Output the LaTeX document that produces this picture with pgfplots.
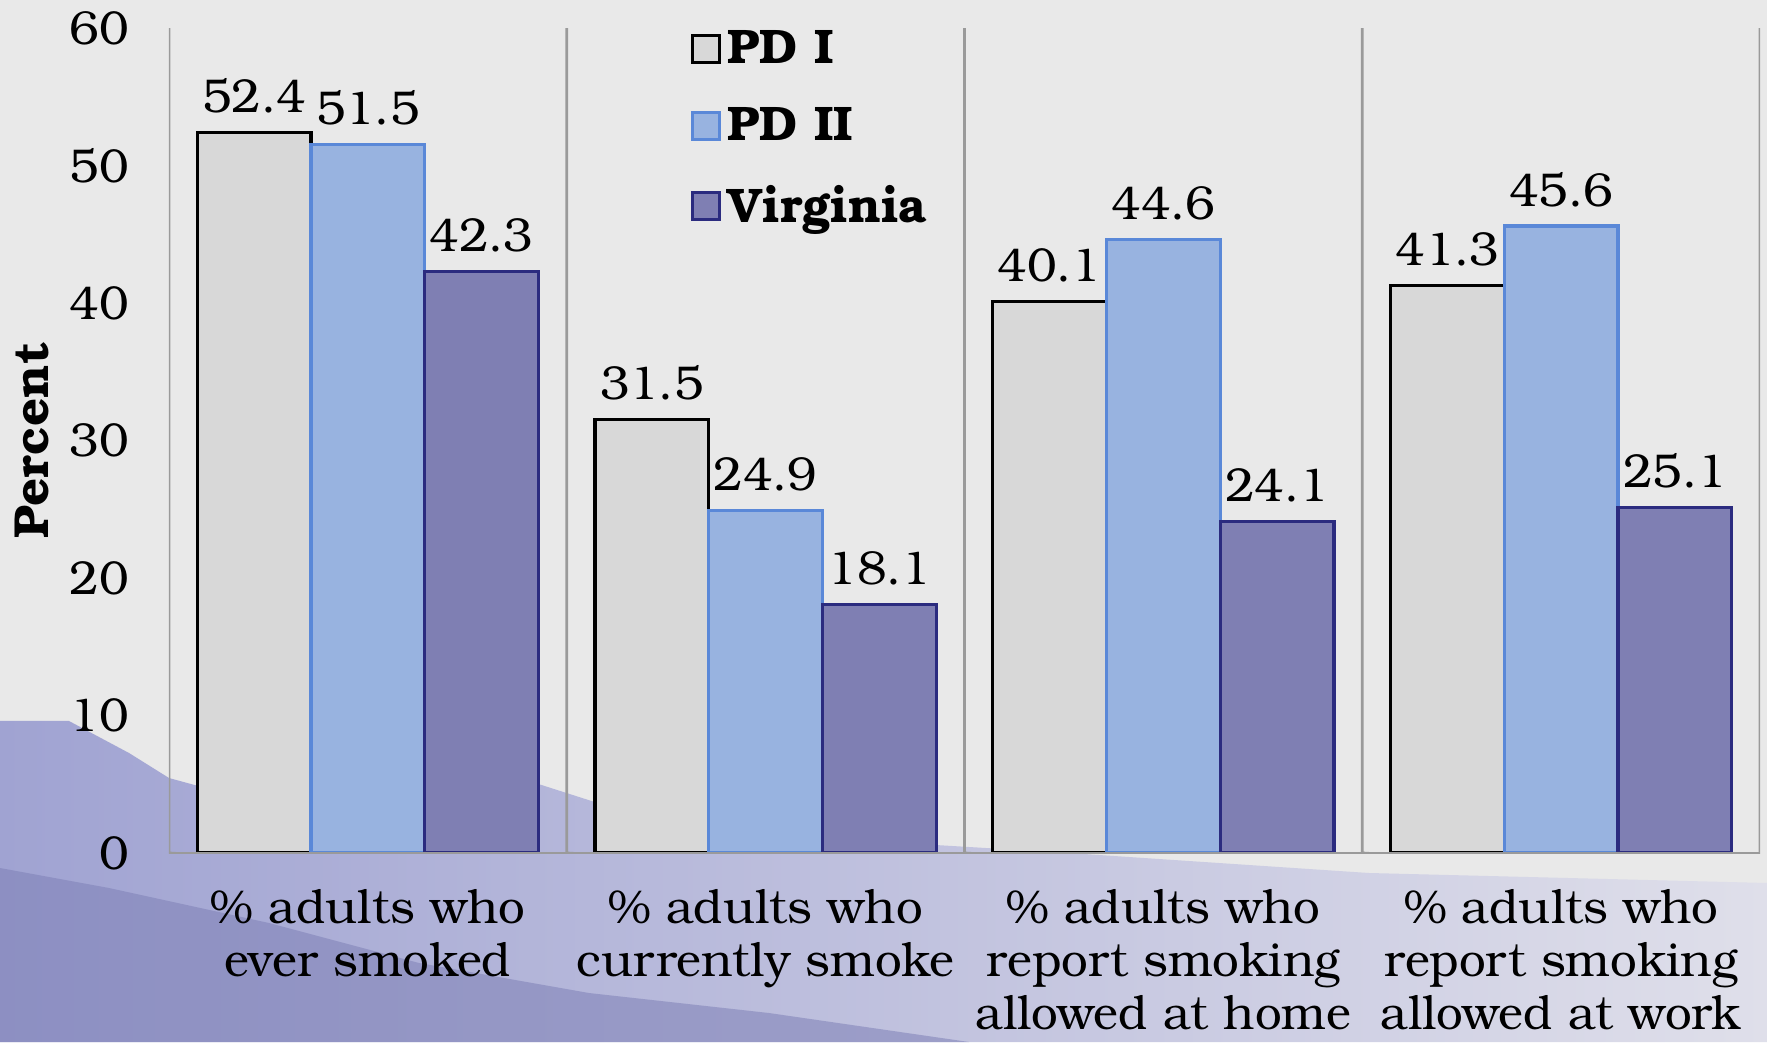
\documentclass[border=0pt]{standalone}
\usepackage{fontspec}
\setmainfont{TeX Gyre Bonum}
\usepackage{pgfplots}
\pgfplotsset{compat=1.18}
\usetikzlibrary{backgrounds}

\definecolor{bgc}{HTML}{E9E9E9}
\definecolor{sepc}{HTML}{9A9A9A}
\definecolor{pdone}{HTML}{D8D8D8}
\definecolor{pdtwo}{HTML}{98B3E0}
\definecolor{pdtwoedge}{HTML}{5A88D8}
\definecolor{vafill}{HTML}{7F7FB3}
\definecolor{vaedge}{HTML}{2B2B7F}
\definecolor{hillA}{HTML}{A0A3D2}
\definecolor{hillB}{HTML}{DFDFEA}
\definecolor{hillC}{HTML}{7E80B6}

\begin{document}
\begin{tikzpicture}[font=\fontsize{13.5}{15.6}\selectfont]
\path[use as bounding box] (-1.69,-1.89) rectangle (15.98,8.53);
\begin{axis}[
  scale only axis,
  width=15.91cm, height=8.25cm,
  xmin=-0.5, xmax=3.5, ymin=0, ymax=60,
  ybar=0pt, bar width=0.286,
  xtick={0,1,2,3},
  xticklabels={{\% adults who\\ever smoked},{\% adults who\\currently smoke},{\% adults who\\report smoking\\allowed at home},{\% adults who\\report smoking\\allowed at work}},
  xticklabel style={align=center, inner sep=0pt, yshift=-0.36cm, font=\fontsize{13.5}{15}\selectfont},
  ytick={0,10,...,60},
  yticklabel style={xshift=-0.28cm},
  /pgf/number format/assume math mode=true,
  major tick length=0pt,
  axis line style={draw=none},
  ylabel={\bfseries Percent},
  ylabel style={at={(axis description cs:-0.086,0.5)}, anchor=center, font=\fontsize{14}{16}\selectfont},
  nodes near coords,
  every node near coord/.append style={font=\fontsize{13.5}{15.6}\selectfont, yshift=0.06cm, /pgf/number format/fixed, /pgf/number format/precision=1, /pgf/number format/fixed zerofill, /pgf/number format/assume math mode=true},
  area legend,
  legend image code/.code={\draw[#1] (-0.045cm,-0.13cm) rectangle (0.225cm,0.14cm);},
  legend style={at={(axis cs:0.81,60.4)}, anchor=north west, draw=none, fill=none,
    font=\bfseries\fontsize{13.8}{16}\selectfont, row sep=2.5mm, inner sep=0pt},
  legend cell align=left,
]
\addplot[bar shift=-0.286, fill=pdone, draw=black, line width=0.9pt]
  coordinates {(0,52.4) (1,31.5) (2,40.1) (3,41.3)};
\addplot[bar shift=0, fill=pdtwo, draw=pdtwoedge, line width=0.9pt]
  coordinates {(0,51.5) (1,24.9) (2,44.6) (3,45.6)};
\addplot[bar shift=0.286, fill=vafill, draw=vaedge, line width=0.9pt]
  coordinates {(0,42.3) (1,18.1) (2,24.1) (3,25.1)};
\legend{PD I, PD II, Virginia}
\draw[sepc, line width=0.8pt] (axis cs:-0.5,0) -- (axis cs:3.5,0);
\pgfplotsinvokeforeach{-0.5,0.5,1.5,2.5,3.5}{
  \draw[sepc, line width=0.8pt] (axis cs:#1,60) -- (axis cs:#1,0) -- ++(0,-0.12cm);
}
\end{axis}
\begin{scope}[on background layer]
\fill[bgc] (-1.69,-1.89) rectangle (15.98,8.53);
\shade[left color=hillA, right color=hillB]
  (-1.69,1.32) -- (-1.0,1.32) -- (-0.4,1.0) -- (0,0.75) -- (1.1,0.45) -- (2.2,0.6)
  -- (3.6,0.72) -- (4.6,0.4) -- (6.5,0.15) -- (9,0.0) -- (12,-0.2) -- (15.98,-0.3)
  -- (15.98,-1.89) -- (-1.69,-1.89) -- cycle;
\fill[hillC, opacity=0.55]
  (-1.69,-0.15) -- (-0.6,-0.35) -- (1,-0.7) -- (2.5,-1.1) -- (4.2,-1.4)
  -- (6,-1.6) -- (8,-1.89) -- (-1.69,-1.89) -- cycle;
\end{scope}
\end{tikzpicture}
\end{document}
